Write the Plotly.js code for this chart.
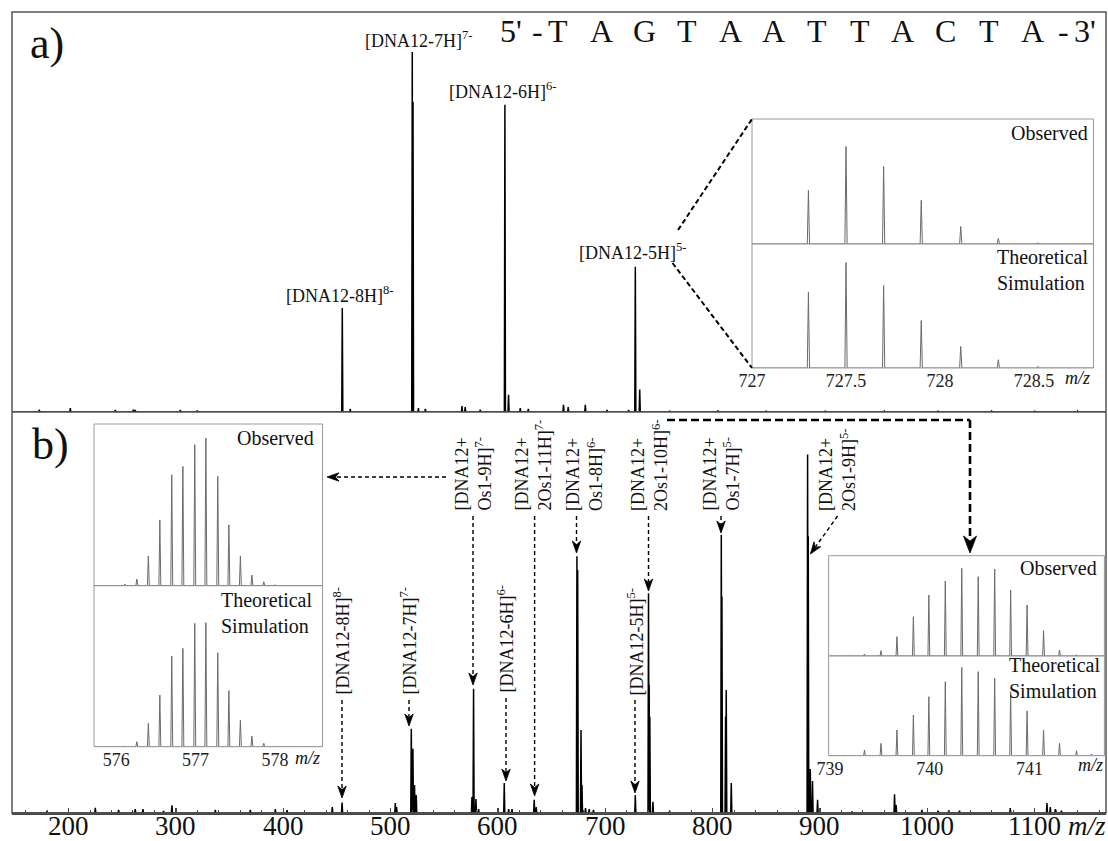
<!DOCTYPE html>
<html><head><meta charset="utf-8">
<script src="https://cdn.plot.ly/plotly-3.0.1.min.js"></script>
<style>
body{margin:0;background:#fff}
#chart{width:1108px;height:841px}
</style>
</head><body><div id="chart"></div>
<script>
// ---------------- DATA ----------------
// Panel a) main spectrum: m/z and relative intensity (% of panel height)
const mzA  = [172.7,201.6,243.5,260.3,262.1,304.1,319.9,455.0,462.4,520.2,520.9,525.9,532.4,566.5,569.5,583.5,606.5,609.9,620.8,628.3,661.1,665.5,681.4,701.6,721.7,728.0,732.1,760,805,850,905,960,1010,1060,1100,1140];
const intA = [0.6,1.0,0.5,0.6,0.5,0.5,0.4,26.0,0.8,90.0,77.5,1.0,0.8,1.5,1.2,0.6,76.8,4.3,1.0,0.8,1.8,1.2,1.8,0.5,0.5,36.3,5.6,0.3,0.4,0.3,0.3,0.2,0.3,0.2,0.3,0.2];
// Panel b) main spectrum
const mzB  = [179.9,224.9,246.6,262.1,269.3,288.5,296.3,336.7,369.3,392.6,403.5,445.7,454.8,504.4,505.6,519.3,520.8,522.3,523.9,575.8,577.3,579.5,582.0,605.9,610.0,613.1,633.8,635.7,673.6,674.3,677.4,678.3,681.6,685.0,689.0,728.0,740.3,740.9,741.5,744.4,760,808.1,808.7,812.1,812.7,817.4,888.5,889.1,891.0,893.1,897.8,930,969.5,971.0,995,1010,1020,1030,1077.3,1111.5,1114.6,1119.3,1125];
const intB = [0.5,1.3,0.8,1.0,1.0,0.5,1.9,0.8,0.8,1.0,0.7,1.5,2.6,2.5,1.5,21.0,16.0,7.0,4.5,4.0,31.0,3.5,1.0,7.5,1.0,1.0,3.3,1.5,64.0,60.6,20.7,7.0,1.2,1.0,0.8,4.5,54.8,32.0,24.0,2.8,0.5,69.4,54.0,24.0,30.7,7.5,89.4,69.0,11.0,8.0,3.3,0.4,4.7,2.0,0.8,0.6,0.7,0.6,1.2,2.5,1.5,1.0,0.6];

// Inset in a): [DNA12-5H]5-
const insAmz   = [727.30,727.50,727.70,727.90,728.11,728.31,728.52];
const insAobs  = [43,78,62,35,14,4.5,1];
const insAtheo = [61.1,85,66.5,38.3,17.4,6.7,1.3];
const insAticks = [727,727.5,728,728.5];
const insAtickText = ['727','727.5','728','728.5'];

// Left inset in b): [DNA12+Os1-9H]7-
const insBLmz   = [576.11,576.26,576.405,576.55,576.70,576.84,576.99,577.13,577.28,577.42,577.565,577.71,577.86,578.0];
const insBLobs  = [1.0,4.1,18.4,40.7,68.6,73.8,87.2,91.3,67.6,37.6,18.4,6.6,2.5,0.6];
const insBLtheo = [0.4,3.1,14.5,32.1,56.3,61.1,76.6,77.0,58.4,34.8,16.6,6.6,2.1,0.3];
const insBLticks = [576,577,578];
const insBLtickText = ['576','577','578'];

// Right inset in b): [DNA12+2Os1-10H]6-
const insBRmz   = [739.18,739.345,739.51,739.67,739.835,739.99,740.155,740.32,740.485,740.65,740.81,740.975,741.14,741.30,741.47,741.62];
const insBRobs  = [0.7,2,5.3,19.3,39.2,60.8,74.8,87.4,79.1,86.7,65.8,50.8,25.2,6,1.3,0.7];
const insBRtheo = [0.5,5.7,12.4,25.8,40.8,59.2,74.2,88.6,84.3,77.6,64.2,44.8,25.8,12.4,5,1.7];
const insBRticks = [739,740,741];
const insBRtickText = ['739','740','741'];

// Main axis ticks
const mainTicks = [200,300,400,500,600,700,800,900,1000,1100];
const mainTickText = ['200','300','400','500','600','700','800','900','1000','1100'];

// Texts
const seqLetters = ['T','A','G','T','A','A','T','T','A','C','T','A'];
const labelsA = ['[DNA12-8H]<sup>8-</sup>','[DNA12-7H]<sup>7-</sup>','[DNA12-6H]<sup>6-</sup>','[DNA12-5H]<sup>5-</sup>'];
const labelsBsingle = ['[DNA12-8H]<sup>8-</sup>','[DNA12-7H]<sup>7-</sup>','[DNA12-6H]<sup>6-</sup>','[DNA12-5H]<sup>5-</sup>'];
const labelsBdouble = ['[DNA12+<br>Os1-9H]<sup>7-</sup>','[DNA12+<br>2Os1-11H]<sup>7-</sup>','[DNA12+<br>Os1-8H]<sup>6-</sup>','[DNA12+<br>2Os1-10H]<sup>6-</sup>','[DNA12+<br>Os1-7H]<sup>5-</sup>','[DNA12+<br>2Os1-9H]<sup>5-</sup>'];

// ---------------- GEOMETRY HELPERS ----------------
const L=12, R=1106, T=12, B=813;
const px = X => (X-L)/(R-L);
const py = Y => (B-Y)/(B-T);
const FONT = 'Liberation Serif';
const XR = [147.3,1166.5];

function stick(mz, inten, halfW, xmin, xmax){
  const pts = mz.map((m,i)=>[m,inten[i]]).sort((a,b)=>a[0]-b[0]);
  const x=[xmin], y=[0];
  pts.forEach(p=>{ x.push(p[0]-halfW,p[0],p[0]+halfW); y.push(0,p[1],0); });
  x.push(xmax); y.push(0);
  return {x:x,y:y};
}
function tr(s, xa, ya, color, w){
  return {x:s.x, y:s.y, xaxis:xa, yaxis:ya, type:'scatter', mode:'lines',
    line:{color:color, width:w, simplify:false}, hoverinfo:'skip', showlegend:false};
}

const insAR = [727, 728.816], insBLR = [575.72, 578.6], insBRR = [738.985, 741.75];
const GRAY = '#6a6a6a';

const traces = [
  tr(stick(mzB,intB,0.5,XR[0],XR[1]),'x','y','#000',1.5),
  tr(stick(mzA,intA,0.5,XR[0],XR[1]),'x','y2','#000',1.5),
  tr(stick(insAmz,insAtheo,0.006,insAR[0],insAR[1]),'x3','y3',GRAY,1),
  tr(stick(insAmz,insAobs,0.006,insAR[0],insAR[1]),'x3','y4',GRAY,1),
  tr(stick(insBLmz,insBLtheo,0.012,insBLR[0],insBLR[1]),'x4','y5',GRAY,1),
  tr(stick(insBLmz,insBLobs,0.012,insBLR[0],insBLR[1]),'x4','y6',GRAY,1),
  tr(stick(insBRmz,insBRtheo,0.009,insBRR[0],insBRR[1]),'x5','y7',GRAY,1),
  tr(stick(insBRmz,insBRobs,0.009,insBRR[0],insBRR[1]),'x5','y8',GRAY,1)
];

function hidY(dom, anchor){ return {domain:dom, range:[0,100], anchor:anchor, visible:false, fixedrange:true}; }
function insX(x0,x1,rng,anchor,tv,tt){
  return {domain:[px(x0),px(x1)], range:rng, anchor:anchor, tickmode:'array', tickvals:tv, ticktext:tt,
    ticks:'', showline:false, showgrid:false, zeroline:false, fixedrange:true,
    tickfont:{family:FONT,size:18,color:'#222'}};
}

// ---------------- SHAPES ----------------
const shapes = [];
function rect(x0,y0,x1,y1,color,w){ shapes.push({type:'rect',xref:'paper',yref:'paper',x0:px(x0),x1:px(x1),y0:py(y0),y1:py(y1),line:{color:color,width:w},fillcolor:'rgba(0,0,0,0)'}); }
function seg(x0,y0,x1,y1,color,w,dash){ shapes.push({type:'line',xref:'paper',yref:'paper',x0:px(x0),x1:px(x1),y0:py(y0),y1:py(y1),line:{color:color,width:w,dash:dash||'solid'}}); }
// notched arrow head; tip (x,y), direction from tail to tip (dx,dy)
function head(x,y,dx,dy,len,hw){
  const n = Math.hypot(dx,dy), ux = dx/n, uy = dy/n, vx = -uy, vy = ux;
  const bx = x-ux*len, by = y-uy*len, nx = x-ux*len*0.7, ny = y-uy*len*0.7;
  const P = (X,Y)=>px(X)+','+py(Y);
  shapes.push({type:'path', xref:'paper', yref:'paper', fillcolor:'#000', line:{color:'#000',width:0.8},
    path:'M'+P(x,y)+' L'+P(bx+vx*hw,by+vy*hw)+' L'+P(nx,ny)+' L'+P(bx-vx*hw,by-vy*hw)+' Z'});
}
// dashed arrow from (x0,y0) to tip (x1,y1)
function darrow(x0,y0,x1,y1,w,dash,len,hw){
  const n = Math.hypot(x1-x0,y1-y0), ux=(x1-x0)/n, uy=(y1-y0)/n;
  seg(x0,y0,x1-ux*len*0.75,y1-uy*len*0.75,'#000',w,dash);
  head(x1,y1,ux,uy,len,hw);
}

rect(L,T,R,B,'#555',1.5);
seg(L,412,R,412,'#555',1.5);
// inset frames
rect(752,119,1093.5,368,'#9a9a9a',1); seg(752,244,1093.5,244,'#8a8a8a',1);
rect(94,424,322.5,746.7,'#9a9a9a',1); seg(94,585.7,322.5,585.7,'#8a8a8a',1);
rect(828.6,555.7,1104.4,755.7,'#9a9a9a',1); seg(828.6,656,1104.4,656,'#8a8a8a',1);
// zoom lines in a)
seg(678,230,752,119,'#000',2,'5px,3px');
seg(672.5,263,752,368,'#000',2,'5px,3px');

// arrows in b)
const TH = [1.4,'4px,3px',12,4.2];
darrow(342,700,342,798,...TH);
darrow(409,700,409,726,...TH);
darrow(473,516,473,685,...TH);
darrow(506,698,506,781,...TH);
darrow(534.6,516,534.6,796,...TH);
darrow(576.5,516,576.5,553,...TH);
darrow(635,700,635,793,...TH);
darrow(648.5,516,648.5,591,...TH);
darrow(721,516,721,533,...TH);
darrow(837.6,516,810.4,554,...TH);
darrow(446,477,327,477,...TH);
// thick arrow to right inset
seg(667,420,970,420,'#000',2.6,'8px,4px');
darrow(970,420,970,553,2.6,'8px,4px',17,6.5);

// ---------------- ANNOTATIONS ----------------
const ann = [];
function txt(t,x,y,size,opts){
  ann.push(Object.assign({text:t, x:px(x), y:py(y), xref:'paper', yref:'paper', showarrow:false,
    font:{family:FONT,size:size,color:'#111'}, xanchor:'center', yanchor:'middle'}, opts||{}));
}

txt('a)',47,44,44);
txt('b)',51,444,44);

// sequence
txt("5'",511,31,32);
txt('-',537,31,32);
seqLetters.forEach((s,i)=>txt(s,558+i*43.1,31,32));
txt('-',1063,31,32);
txt("3'",1085,31,32);

// panel a labels
const posA = [[339,294],[418,40],[502,90],[632,252]];
labelsA.forEach((t,i)=>txt(t,posA[i][0],posA[i][1],18));

// panel b single-line rotated labels
const posBs = [[342,697],[409,697],[506,695],[636,697]];
labelsBsingle.forEach((t,i)=>txt(t,posBs[i][0],posBs[i][1],18,{textangle:-90,yanchor:'bottom'}));
// two-line rotated labels
const posBd = [[472.5,513],[533,513],[584,513],[649,513],[720.5,513],[837.5,513]];
labelsBdouble.forEach((t,i)=>txt(t,posBd[i][0],posBd[i][1],18,{textangle:-90,yanchor:'bottom',align:'left'}));

// inset texts
txt('Observed',1090,133,20,{xanchor:'right'});
txt('Theoretical<br>Simulation',1090,270,20,{xanchor:'right',align:'left'});
txt('<i>m/z</i>',1077,378,18);
txt('Observed',316,438,20,{xanchor:'right'});
txt('Theoretical<br>Simulation',314,613,20,{xanchor:'right',align:'left'});
txt('<i>m/z</i>',307,758,18);
txt('Observed',1099,568,20,{xanchor:'right'});
txt('Theoretical<br>Simulation',1102,678,20,{xanchor:'right',align:'left'});
txt('<i>m/z</i>',1090,765,18);
// main axis tick labels (placed on the data axis) and title
mainTicks.forEach((v,i)=>ann.push({text:mainTickText[i], x:v, xref:'x', y:py(826), yref:'paper', showarrow:false,
  xanchor:'center', yanchor:'middle', font:{family:FONT,size:27,color:'#111'}}));
txt('<i>m/z</i>',1087,826,27);

const layout = {
  width:1108, height:841,
  margin:{l:L, r:1108-R, t:T, b:841-B, pad:0},
  paper_bgcolor:'#fff', plot_bgcolor:'rgba(0,0,0,0)',
  showlegend:false,
  xaxis:{domain:[0,1], range:XR, anchor:'y', tickmode:'linear', tick0:0, dtick:100,
    ticks:'inside', ticklen:5, tickwidth:1.2, tickcolor:'#444', showticklabels:false,
    minor:{ticks:'inside', ticklen:3, tick0:0, dtick:20, tickcolor:'#444', tickwidth:1},
    showline:true, linecolor:'#444', linewidth:1.5, showgrid:false, zeroline:false, fixedrange:true},
  yaxis: hidY([0,py(412)],'x'),
  yaxis2: hidY([py(412),1],'x'),
  xaxis3: insX(752,1093.5,insAR,'y3',insAticks,insAtickText),
  yaxis3: hidY([py(368),py(244)],'x3'),
  yaxis4: hidY([py(244),py(119)],'x3'),
  xaxis4: insX(94,322.5,insBLR,'y5',insBLticks,insBLtickText),
  yaxis5: hidY([py(746.7),py(585.7)],'x4'),
  yaxis6: hidY([py(585.7),py(424)],'x4'),
  xaxis5: insX(828.6,1104.4,insBRR,'y7',insBRticks,insBRtickText),
  yaxis7: hidY([py(755.7),py(656)],'x5'),
  yaxis8: hidY([py(656),py(555.7)],'x5'),
  shapes: shapes,
  annotations: ann
};

Plotly.newPlot('chart', traces, layout, {staticPlot:true, displayModeBar:false});
</script></body></html>
